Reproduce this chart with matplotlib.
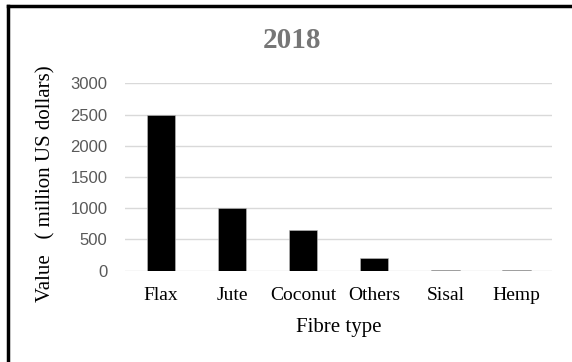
import matplotlib
matplotlib.use('Agg')
import matplotlib.pyplot as plt
from matplotlib.lines import Line2D

# fibre export values, 2018
fibres = ['Flax', 'Jute', 'Coconut', 'Others', 'Sisal', 'Hemp']
values = [2500, 1000, 650, 200, 8, 6]
yticks = [0, 500, 1000, 1500, 2000, 2500, 3000]

serif = ['Liberation Serif', 'DejaVu Serif']

fig = plt.figure(figsize=(5.72, 3.62), dpi=100)
ax = fig.add_axes([0.2194, 0.2522, 0.7456, 0.5177])

x = list(range(len(fibres)))
ax.bar(x, values, width=0.4, color='black', edgecolor='#bfbfbf', linewidth=0.4, zorder=3)

ax.set_xlim(-0.5, len(fibres) - 0.5)
ax.set_ylim(0, 3000)
ax.set_yticks(yticks)
ax.set_yticklabels([str(v) for v in yticks], family='Liberation Sans', fontsize=12, color='#595959')
ax.set_xticks(x)
ax.set_xticklabels(fibres, family=serif, fontsize=14, color='black')
ax.tick_params(axis='y', length=0, pad=13)
ax.tick_params(axis='x', length=0, pad=12)

ax.grid(axis='y', color='#d9d9d9', linewidth=1.0, zorder=0)
for s in ['top', 'right', 'left', 'bottom']:
    ax.spines[s].set_visible(False)

ax.set_xlabel('Fibre type', family=serif, fontsize=15, labelpad=10)
fig.text(46 / 572, 1 - 183.5 / 362, 'Value   ( million US dollars)', family=serif, fontsize=15,
         rotation=90, ha='center', va='center')

fig.text(292 / 572, 1 - 40 / 362, '2018', family=serif, fontsize=21, fontweight='bold',
         color='#767676', ha='center', va='center')

# frame lines (only top and left are visible in the original)
fig.add_artist(Line2D([8 / 572, 8 / 572], [0, 1 - 5.5 / 362], color='black', linewidth=2.5,
                      transform=fig.transFigure, solid_capstyle='projecting'))
fig.add_artist(Line2D([8 / 572, 1], [1 - 5.5 / 362, 1 - 5.5 / 362], color='black', linewidth=2.5,
                      transform=fig.transFigure, solid_capstyle='projecting'))

fig.savefig('out.png', dpi=100)
